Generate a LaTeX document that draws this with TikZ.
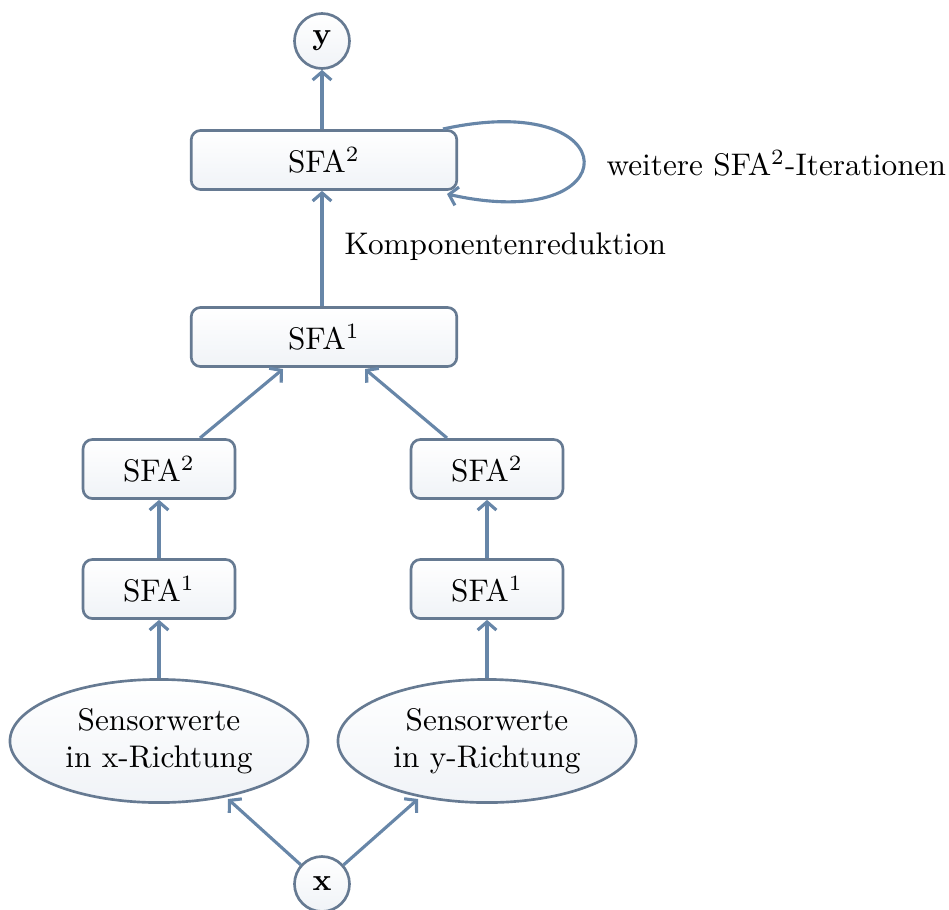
\documentclass[tikz,border=0pt]{standalone}
\usetikzlibrary{arrows.meta,shapes.geometric}
\definecolor{bord}{HTML}{667A92}
\definecolor{arr}{HTML}{6786A8}
\definecolor{fillb}{HTML}{F0F3F7}
\tikzset{
  base/.style={draw=bord, line width=0.85pt, top color=white, bottom color=fillb, align=center, inner sep=0pt},
  bigbox/.style={base, rectangle, rounded corners=3pt, minimum width=85pt, minimum height=18.9pt},
  smallbox/.style={base, rectangle, rounded corners=3pt, minimum width=48.6pt, minimum height=18.9pt},
  sensor/.style={base, ellipse, minimum width=95.4pt, minimum height=39.4pt},
  io/.style={base, circle, minimum size=17.6pt},
  conn/.style={draw=arr, line width=1pt, -{Straight Barb[length=2.6pt,width=6pt,line width=1pt]}},
}
\begin{document}
\begin{tikzpicture}[x=0.32pt,y=-0.32pt]
\useasboundingbox (0,0) rectangle (949,909);
\node[io] (y) at (322,41) {$\mathbf{y}$};
\node[bigbox] (top) at (324,160) {SFA$^2$};
\node[bigbox] (mid) at (324,337) {SFA$^1$};
\node[smallbox] (l2) at (159,469) {SFA$^2$};
\node[smallbox] (r2) at (487,469) {SFA$^2$};
\node[smallbox] (l1) at (159,589) {SFA$^1$};
\node[smallbox] (r1) at (487,589) {SFA$^1$};
\node[sensor] (ls) at (159,741) {Sensorwerte\\in x-Richtung};
\node[sensor] (rs) at (487,741) {Sensorwerte\\in y-Richtung};
\node[io] (x) at (322,884) {$\mathbf{x}$};
\node[anchor=west, inner sep=0pt] (iter) at (606,163) {weitere SFA$^2$-Iterationen};
\node[anchor=west, inner sep=0pt] (komp) at (344,247) {Komponentenreduktion};
\coordinate (ls1) at (228,799);
\coordinate (rs1) at (418,799);
\coordinate (l2a) at (200,438);
\coordinate (r2a) at (447,438);
\coordinate (mida) at (283,369);
\coordinate (midb) at (365,369);
\coordinate (loopa) at (443,129);
\coordinate (loopb) at (447,194);
\draw[conn] (x) -- (ls1);
\draw[conn] (x) -- (rs1);
\draw[conn] (ls.north) -- (l1.south);
\draw[conn] (rs.north) -- (r1.south);
\draw[conn] (l1.north) -- (l2.south);
\draw[conn] (r1.north) -- (r2.south);
\draw[conn] (l2a) -- (mida);
\draw[conn] (r2a) -- (midb);
\draw[conn] (mid.north -| 322,0) -- (top.south -| 322,0);
\draw[conn] (top.north -| 322,0) -- (y.south);
\draw[conn] (loopa) .. controls (630,88) and (630,235) .. (loopb);
\end{tikzpicture}
\end{document}
